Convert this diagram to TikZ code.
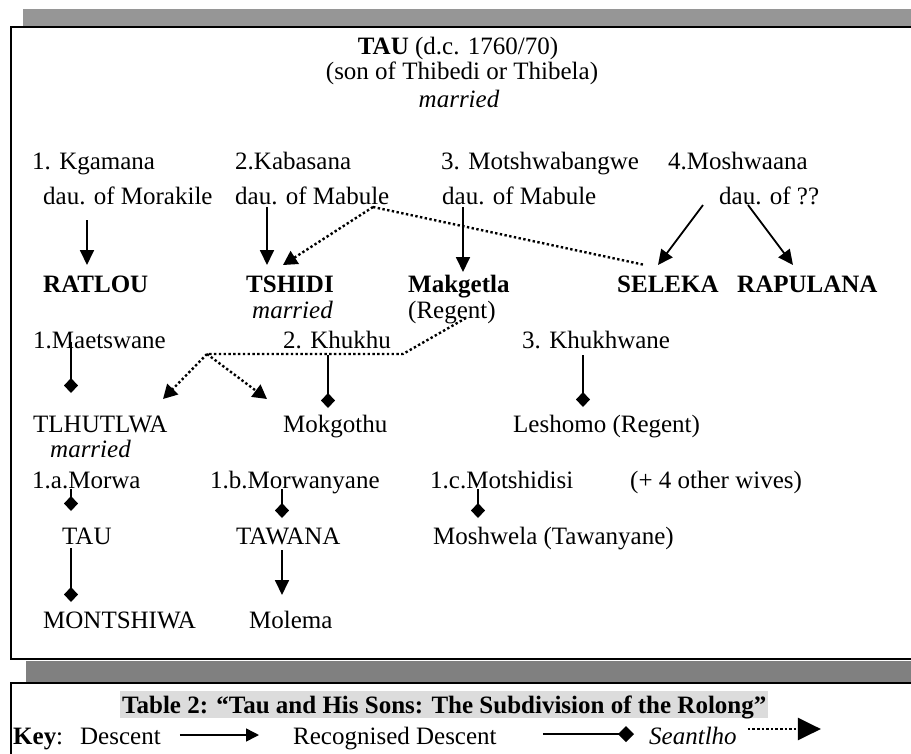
\documentclass[tikz,border=0pt]{standalone}
\usepackage{fontspec}
\setmainfont{Liberation Serif}
\usetikzlibrary{arrows.meta}
\definecolor{bandtop}{RGB}{150,150,150}
\definecolor{bandbot}{RGB}{128,128,128}
\definecolor{capgray}{RGB}{220,220,220}
\begin{document}
\begin{tikzpicture}[x=1pt,y=-1pt,
  lbl/.style={anchor=base west,inner sep=0pt,font=\fontsize{25}{28}\selectfont},
  ctr/.style={anchor=base,inner sep=0pt,font=\fontsize{25}{28}\selectfont},
  desc/.style={line width=1.8pt,-{Triangle[length=15pt,width=14pt]}},
  recogn/.style={line width=1.6pt,-{Diamond[length=15pt,width=14pt]}},
  seant/.style={line width=2.4pt,dash pattern=on 2.4pt off 2.4pt,-{Triangle[length=14pt,width=15pt]}},
  seantline/.style={line width=2.4pt,dash pattern=on 2.4pt off 2.4pt},
  frame/.style={line width=2.8pt}]
\useasboundingbox (0,0) rectangle (911,753);
\clip (0,0) rectangle (911,753);
\fill[white] (0,0) rectangle (911,753);
\fill[bandtop] (23,9) rectangle (940,26);
\draw[frame] (11,27) rectangle (945,659);
\fill[bandbot] (26,661) rectangle (940,682);
\draw[frame] (11,683) rectangle (945,800);

% top
\node[ctr] (tau) at (458,54) {\textbf{TAU} (d.c. 1760/70)};
\node[ctr] (sonof) at (462,79) {(son of Thibedi or Thibela)};
\node[ctr] (marr0) at (459,107) {\itshape married};

% wives
\node[lbl] (k1) at (32,169) {1. Kgamana};
\node[lbl] (k2) at (235,169) {2.Kabasana};
\node[lbl] (k3) at (441,169) {3. Motshwabangwe};
\node[lbl] (k4) at (668,169) {4.Moshwaana};
\node[lbl] (d1) at (43,204) {dau. of Morakile};
\node[lbl] (d2) at (235,204) {dau. of Mabule};
\node[lbl] (d3) at (442,204) {dau. of Mabule};
\node[lbl] (d4) at (719,204) {dau. of ??};

% sons
\node[lbl] (ratlou) at (43,292) {\textbf{RATLOU}};
\node[lbl] (tshidi) at (246,292) {\textbf{TSHIDI}};
\node[lbl] (makgetla) at (408,292) {\textbf{Makgetla}};
\node[lbl] (seleka) at (617,292) {\textbf{SELEKA}};
\node[lbl] (rapulana) at (737,292) {\textbf{RAPULANA}};
\node[lbl] (marr1) at (252,318) {\itshape married};
\node[lbl] (regent) at (408,318) {(Regent)};

% Tshidi's wives
\node[lbl] (m1) at (33,348) {1.Maetswane};
\node[lbl] (m2) at (283,348) {2. Khukhu};
\node[lbl] (m3) at (522,348) {3. Khukhwane};
\node[lbl] (tlhutlwa) at (33,432) {TLHUTLWA};
\node[lbl] (mokgothu) at (283,432) {Mokgothu};
\node[lbl] (leshomo) at (513,432) {Leshomo (Regent)};
\node[lbl] (marr2) at (50,457) {\itshape married};

% Tlhutlwa's wives
\node[lbl] (w1) at (32,488) {1.a.Morwa};
\node[lbl] (w2) at (210,488) {1.b.Morwanyane};
\node[lbl] (w3) at (430,488) {1.c.Motshidisi};
\node[lbl] (w4) at (630,488) {(+ 4 other wives)};
\node[lbl] (tau2) at (62,544) {TAU};
\node[lbl] (tawana) at (236,544) {TAWANA};
\node[lbl] (moshwela) at (433,544) {Moshwela (Tawanyane)};
\node[lbl] (montshiwa) at (43,628) {MONTSHIWA};
\node[lbl] (molema) at (249,628) {Molema};

% connectors, first generation
\draw[desc] ([shift={(44,16)}]d1.base west) -- ([shift={(44,-27)}]ratlou.base west);
\draw[desc] ([shift={(32,3)}]d2.base west) -- ([shift={(21,-27)}]tshidi.base west);
\draw[desc] ([shift={(21,3)}]d3.base west) -- ([shift={(55,-20)}]makgetla.base west);
\coordinate (mabfork) at ([shift={(138,3)}]d2.base west);
\draw[seant] (mabfork) -- ([shift={(37,-27)}]tshidi.base west);
\draw[seantline] (mabfork) -- ([shift={(28,-27)}]seleka.base west);
\draw[desc] ([shift={(-16,1)}]d4.base west) -- ([shift={(41,-27)}]seleka.base west);
\draw[desc] ([shift={(29,1)}]d4.base west) -- ([shift={(56,-27)}]rapulana.base west);

% second generation
\coordinate (bend) at ([shift={(120,6)}]m2.base west);
\coordinate (fork) at ([shift={(-76,6)}]m2.base west);
\draw[seantline] ([shift={(58,0)}]regent.base west) -- (bend) -- (fork);
\draw[seant] (fork) -- ([shift={(130,-33)}]tlhutlwa.base west);
\draw[seant] (fork) -- ([shift={(-16,-33)}]mokgothu.base west);
\draw[recogn] ([shift={(38,-6)}]m1.base west) -- ([shift={(38,-39)}]tlhutlwa.base west);
\draw[recogn] ([shift={(45,7)}]m2.base west) -- ([shift={(45,-24)}]mokgothu.base west);
\draw[recogn] ([shift={(61,7)}]m3.base west) -- ([shift={(70,-25)}]leshomo.base west);

% third generation
\draw[recogn] ([shift={(39,1)}]w1.base west) -- ([shift={(9,-33)}]tau2.base west);
\draw[recogn] ([shift={(72,1)}]w2.base west) -- ([shift={(46,-26)}]tawana.base west);
\draw[recogn] ([shift={(48,1)}]w3.base west) -- ([shift={(45,-26)}]moshwela.base west);
\draw[recogn] ([shift={(9,4)}]tau2.base west) -- ([shift={(28,-26)}]montshiwa.base west);
\draw[desc] ([shift={(46,6)}]tawana.base west) -- ([shift={(33,-33)}]molema.base west);

% caption and key
\node[anchor=base west,fill=capgray,inner xsep=2pt,inner ysep=0pt,text height=22pt,text depth=5pt,font=\fontsize{25}{28}\selectfont] (cap) at (120,713) {\textbf{Table 2: “Tau and His Sons: The Subdivision of the Rolong”}};
\node[lbl] (key) at (13,744) {\textbf{Key}:\hspace{17pt}Descent};
\node[lbl] (keyrec) at (293,744) {Recognised Descent};
\node[lbl] (keysea) at (649,744) {\itshape Seantlho};
\draw[line width=1.5pt,-{Triangle[length=13pt,width=13pt]}] ([shift={(19,-9)}]key.base east) -- ([shift={(-34,-9)}]keyrec.base west);
\draw[line width=1.5pt,-{Diamond[length=16pt,width=16pt]}] ([shift={(46,-10)}]keyrec.base east) -- ([shift={(-15,-10)}]keysea.base west);
\coordinate (keyend) at ([shift={(84,-15)}]keysea.base east);
\draw[line width=2.6pt,dash pattern=on 2.6pt off 2pt,-{Triangle[length=23pt,width=22pt]}] ([shift={(11,-15)}]keysea.base east) -- (keyend);
\end{tikzpicture}
\end{document}
